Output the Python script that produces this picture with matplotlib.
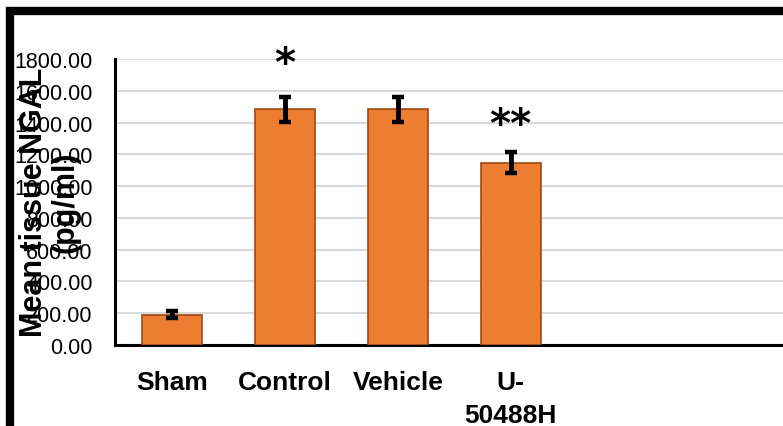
import matplotlib.pyplot as plt
from matplotlib.patches import Rectangle

groups = ["Sham", "Control", "Vehicle", "U-\n50488H"]
ngal = [190, 1483, 1483, 1148]
sem = [22, 79, 79, 65]
stars = ["", "*", "", "**"]
star_y = [0, 1770, 0, 1385]
yticks = [0, 200, 400, 600, 800, 1000, 1200, 1400, 1600, 1800]

plt.rcParams['font.family'] = ['Liberation Sans', 'DejaVu Sans']

fig = plt.figure(figsize=(7.83, 4.27), dpi=100)
ax = fig.add_axes([115 / 783, 81 / 427, 668 / 783, 286 / 427])

x = list(range(len(groups)))
ax.bar(x, ngal, width=0.53, color='#ED7D31', edgecolor='#9C4A14', linewidth=1.2, zorder=3)
ax.errorbar(x, ngal, yerr=sem, fmt='none', ecolor='black', elinewidth=3.5,
            capsize=4.5, capthick=3.2, zorder=4)

for i, s in enumerate(stars):
    if s:
        ax.text(i, star_y[i], s, ha='center', va='center', fontsize=29,
                fontweight='bold', family='DejaVu Sans', zorder=5)

ax.set_xlim(-0.504, 5.41)
ax.set_ylim(0, 1800)
ax.set_yticks(yticks)
ax.set_yticklabels([f"{v:.2f}" for v in yticks], fontsize=15.5)
ax.set_xticks(x)
ax.set_xticklabels(groups, fontsize=19, fontweight='bold', linespacing=1.5)
ax.tick_params(axis='y', length=0, pad=16)
ax.tick_params(axis='x', length=0, pad=18)
ax.yaxis.grid(True, color='#d9d9d9', linewidth=1.5, zorder=0)
ax.set_axisbelow(True)

for side in ['top', 'right']:
    ax.spines[side].set_visible(False)
for side in ['left', 'bottom']:
    ax.spines[side].set_linewidth(2.2)
    ax.spines[side].set_color('black')

fig.text(50 / 783, 1 - 202 / 427, "Mean tissue NGAL\n(pg/ml)", rotation=90,
         ha='center', va='center', multialignment='center', fontsize=22,
         fontweight='bold', linespacing=1.05)

# outer frame
fig.patches.append(Rectangle((10 / 783, -0.2), 1.2, 1.2 - 12 / 427,
                             transform=fig.transFigure, fill=False,
                             edgecolor='black', linewidth=6))

fig.savefig("out.png", dpi=100)
